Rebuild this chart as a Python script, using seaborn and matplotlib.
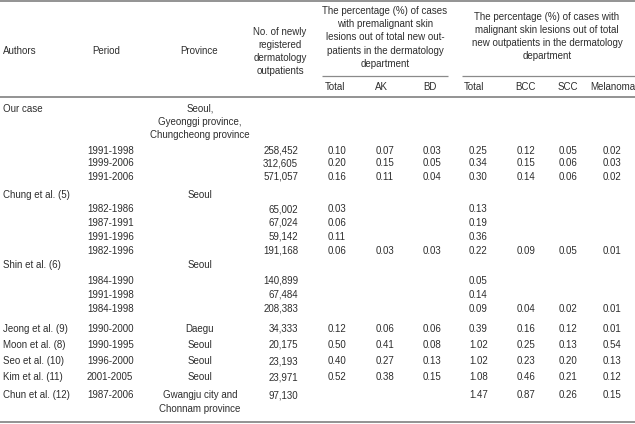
import matplotlib
matplotlib.use("Agg")
import matplotlib.pyplot as plt
import seaborn as sns

# ---------------- data ----------------
row_author = ["Our case", "", "", "", "Chung et al. (5)", "", "", "", "",
              "Shin et al. (6)", "", "", "", "Jeong et al. (9)", "Moon et al. (8)",
              "Seo et al. (10)", "Kim et al. (11)", "Chun et al. (12)"]
row_period = ["", "1991-1998", "1999-2006", "1991-2006", "", "1982-1986", "1987-1991",
              "1991-1996", "1982-1996", "", "1984-1990", "1991-1998", "1984-1998",
              "1990-2000", "1990-1995", "1996-2000", "2001-2005", "1987-2006"]
row_province = ["Seoul,\nGyeonggi province,\nChungcheong province", "", "", "",
                "Seoul", "", "", "", "", "Seoul", "", "", "",
                "Daegu", "Seoul", "Seoul", "Seoul", "Gwangju city and\nChonnam province"]
outpatients = [None, 258452, 312605, 571057, None, 65002, 67024, 59142, 191168,
               None, 140899, 67484, 208383, 34333, 20175, 23193, 23971, 97130]
pre_total = [None, 0.10, 0.20, 0.16, None, 0.03, 0.06, 0.11, 0.06,
             None, None, None, None, 0.12, 0.50, 0.40, 0.52, None]
pre_ak = [None, 0.07, 0.15, 0.11, None, None, None, None, 0.03,
          None, None, None, None, 0.06, 0.41, 0.27, 0.38, None]
pre_bd = [None, 0.03, 0.05, 0.04, None, None, None, None, 0.03,
          None, None, None, None, 0.06, 0.08, 0.13, 0.15, None]
mal_total = [None, 0.25, 0.34, 0.30, None, 0.13, 0.19, 0.36, 0.22,
             None, 0.05, 0.14, 0.09, 0.39, 1.02, 1.02, 1.08, 1.47]
mal_bcc = [None, 0.12, 0.15, 0.14, None, None, None, None, 0.09,
           None, None, None, 0.04, 0.16, 0.25, 0.23, 0.46, 0.87]
mal_scc = [None, 0.05, 0.06, 0.06, None, None, None, None, 0.05,
           None, None, None, 0.02, 0.12, 0.13, 0.20, 0.21, 0.26]
mal_mel = [None, 0.02, 0.03, 0.02, None, None, None, None, 0.01,
           None, None, None, 0.01, 0.01, 0.54, 0.13, 0.12, 0.15]

col_headers = ["Authors", "Period", "Province"]
n_header = "No. of newly\nregistered\ndermatology\noutpatients"
pre_header = ("The percentage (%) of cases\nwith premalignant skin\nlesions out of total new out-\n"
              "patients in the dermatology\ndepartment")
mal_header = ("The percentage (%) of cases with\nmalignant skin lesions out of total\n"
              "new outpatients in the dermatology\ndepartment")
sub_headers = ["Total", "AK", "BD", "Total", "BCC", "SCC", "Melanoma"]

# ---------------- style / layout ----------------
sns.set_theme(style="white")
plt.rcParams["font.family"] = ["Liberation Sans", "DejaVu Sans"]
TXT = "#2e2e2e"
RULE = "#8a8a8a"
FS = 7.0
LS = 13.2
BASE = 3.5  # distance from visual centre of a line to its baseline (px)

fig = plt.figure(figsize=(6.35, 4.24), dpi=100)
ax = fig.add_axes([0, 0, 1, 1])
ax.set_xlim(0, 635)
ax.set_ylim(424, 0)
ax.axis("off")


def put(x, y, s, ha="left"):
    for i, line in enumerate(s.split("\n")):
        ax.text(x, y + i * LS + BASE, line, ha=ha, va="baseline",
                fontsize=FS, color=TXT)


def block(x, yc, s):
    lines = s.split("\n")
    y0 = yc - (len(lines) - 1) * LS / 2
    put(x, y0, s, ha="center")


# rules
ax.hlines([1.0, 96.5, 422.0], 0, 635, color=RULE, lw=1.3)
ax.hlines([76.0], 322, 448, color=RULE, lw=0.9)
ax.hlines([76.0], 462, 635, color=RULE, lw=0.9)

# header
hy = 50
put(3, hy, col_headers[0])
put(106, hy, col_headers[1], ha="center")
put(199, hy, col_headers[2], ha="center")
block(280, 51, n_header)
block(385, 37, pre_header)
block(547, 36, mal_header)
sub_x = [325, 375, 423, 464, 515, 558, 590]
for x, s in zip(sub_x, sub_headers):
    put(x, 87, s)

# body
row_y = [108, 150, 163, 176, 195, 209, 222, 236, 250, 264, 280, 294, 308,
         328, 344, 361, 377, 395]
val_x = [328, 376, 423, 469, 517, 559, 603]
val_cols = [pre_total, pre_ak, pre_bd, mal_total, mal_bcc, mal_scc, mal_mel]
for i, y in enumerate(row_y):
    if row_author[i]:
        put(3, y, row_author[i])
    if row_period[i]:
        put(87, y, row_period[i])
    if row_province[i]:
        put(200, y, row_province[i], ha="center")
    if outpatients[i] is not None:
        put(298, y, f"{outpatients[i]:,}", ha="right")
    for x, col in zip(val_x, val_cols):
        if col[i] is not None:
            put(x, y, f"{col[i]:.2f}")

fig.savefig("out.png", dpi=100)
